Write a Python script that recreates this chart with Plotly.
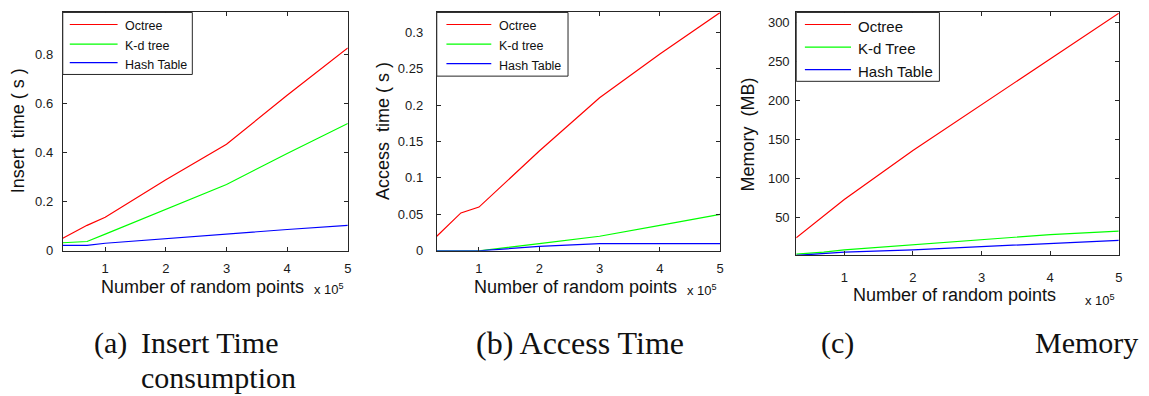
import plotly.graph_objects as go

W, H = 1149, 396

# Number of random points, in units of 10^5
n_points = [0.3, 0.7, 1, 2, 3, 4, 5]

series_names = ["Octree", "K-d tree", "Hash Table"]
series_names_mem = ["Octree", "K-d Tree", "Hash Table"]
series_colors = ["#ff0000", "#00ff00", "#0000ff"]

# (a) insert time, seconds
insert_octree = [0.051, 0.104, 0.137, 0.29, 0.435, 0.635, 0.828]
insert_kd = [0.033, 0.038, 0.068, 0.171, 0.271, 0.397, 0.52]
insert_hash = [0.022, 0.022, 0.031, 0.05, 0.07, 0.087, 0.104]

# (b) access time, seconds
access_octree = [0.02, 0.052, 0.06, 0.137, 0.21, 0.27, 0.327]
access_kd = [0, 0, 0, 0.01, 0.02, 0.035, 0.05]
access_hash = [0, 0, 0, 0.006, 0.01, 0.01, 0.01]

# (c) memory, MB
memory_octree = [24, 52, 73, 136, 195, 254, 312]
memory_kd = [3, 5.5, 8.5, 14.8, 21, 28, 32.5]
memory_hash = [1.3, 3.8, 5.6, 8.5, 12.6, 17, 20.7]

y_ticks_a = [0, 0.2, 0.4, 0.6, 0.8]
y_ticks_b = [0, 0.05, 0.1, 0.15, 0.2, 0.25, 0.3]
y_ticks_c = [50, 100, 150, 200, 250, 300]
x_ticks = [1, 2, 3, 4, 5]

SANS = "Liberation Sans, Arial, sans-serif"
SERIF = "Liberation Serif, Times New Roman, serif"
AXIS_COLOR = "#262626"


def px(x):
    return x / W


def py(y):
    return 1 - y / H


# panel boxes in pixels: left, right, top, bottom
boxes = {
    "a": (63, 349, 12.7, 256),
    "b": (438.3, 722.7, 12.7, 256),
    "c": (799, 1122.7, 12.7, 260.7),
}

fig = go.Figure()

panels = [
    ("a", "x", "y", [insert_octree, insert_kd, insert_hash], series_names),
    ("b", "x2", "y2", [access_octree, access_kd, access_hash], series_names),
    ("c", "x3", "y3", [memory_octree, memory_kd, memory_hash], series_names_mem),
]

for key, xa, ya, series, names in panels:
    for vals, name, color in zip(series, names, series_colors):
        fig.add_trace(go.Scatter(
            x=n_points, y=vals, name=name, mode="lines",
            line=dict(color=color, width=1.2),
            xaxis=xa, yaxis=ya, showlegend=False,
        ))

common_axis = dict(
    showline=True, linecolor=AXIS_COLOR, linewidth=1, mirror="ticks",
    ticks="inside", ticklen=4, tickcolor=AXIS_COLOR, tickwidth=1,
    showgrid=False, zeroline=False,
    tickfont=dict(family=SANS, size=13, color="#1a1a1a"),
)


def xaxis_cfg(key, anchor, standoff):
    l, r, t, b = boxes[key]
    return dict(common_axis, domain=[px(l), px(r)], range=[0.3, 5],
                tickvals=x_ticks, anchor=anchor, ticklabelstandoff=standoff)


def yaxis_cfg(key, anchor, rng, ticks, standoff):
    l, r, t, b = boxes[key]
    return dict(common_axis, domain=[py(b), py(t)], range=rng,
                tickvals=ticks, anchor=anchor, ticklabelstandoff=standoff)


fig.update_layout(
    width=W, height=H,
    margin=dict(l=0, r=0, t=0, b=0),
    paper_bgcolor="white", plot_bgcolor="white",
    xaxis=xaxis_cfg("a", "y", 6),
    yaxis=yaxis_cfg("a", "x", [0, 0.973], y_ticks_a, 6),
    xaxis2=xaxis_cfg("b", "y2", 6),
    yaxis2=yaxis_cfg("b", "x2", [0, 0.327], y_ticks_b, 10),
    xaxis3=xaxis_cfg("c", "y3", 10),
    yaxis3=yaxis_cfg("c", "x3", [1.3, 313], y_ticks_c, 3),
)

annotations = []
shapes = []


def text(x, y, s, size, family=SANS, xanchor="left", yanchor="middle", angle=0):
    annotations.append(dict(
        x=px(x), y=py(y), xref="paper", yref="paper", text=s, showarrow=False,
        xanchor=xanchor, yanchor=yanchor, textangle=angle,
        font=dict(family=family, size=size, color="#111111"),
    ))


# legends: box, line samples, labels
legend_specs = [
    # box l, r, t, b ; line x0, x1 ; label x ; row ys ; font size ; names
    ((63, 193, 12.7, 76), (70, 118), 123, (25, 45, 64), 12.5, series_names),
    ((438.3, 570, 12.7, 77.7), (448, 493), 499, (25, 45, 65), 12.5, series_names),
    ((799, 942.7, 12.7, 83), (807.7, 854), 859, (25, 48, 71), 15, series_names_mem),
]
for (bl, br, bt, bb), (lx0, lx1), tx, rows, fs, names in legend_specs:
    shapes.append(dict(type="rect", xref="paper", yref="paper",
                       x0=px(bl), x1=px(br), y0=py(bb), y1=py(bt),
                       line=dict(color=AXIS_COLOR, width=1), fillcolor="white"))
    for ry, name, color in zip(rows, names, series_colors):
        shapes.append(dict(type="line", xref="paper", yref="paper",
                           x0=px(lx0), x1=px(lx1), y0=py(ry), y1=py(ry),
                           line=dict(color=color, width=1.2)))
        text(tx, ry + 2, name, fs)

# axis titles
text(203, 293, "Number of random points", 18, xanchor="center")
text(578, 293, "Number of random points", 18, xanchor="center")
text(958, 301, "Number of random points", 18, xanchor="center")
text(18, 133, "Insert\u00a0 time ( s )", 18, xanchor="center", angle=-90)
text(385, 134, "Access\u00a0 time ( s )", 18, xanchor="center", angle=-90)
text(751, 137, "Memory\u00a0 (MB)", 18, xanchor="center", angle=-90)

# exponent labels
text(313, 295, "x 10<sup>5</sup>", 13)
text(687, 296, "x 10<sup>5</sup>", 13)
text(1087, 306, "x 10<sup>5</sup>", 13)

# captions
text(92, 350, "(a)", 30, family=SERIF)
text(139, 350, "Insert Time", 30, family=SERIF)
text(139, 385, "consumption", 30, family=SERIF)
text(476, 350, "(b) Access Time", 32, family=SERIF)
text(822, 350, "(c)", 30, family=SERIF)
text(1144, 350, "Memory", 30, family=SERIF, xanchor="right")

fig.update_layout(annotations=annotations, shapes=shapes)

fig.write_html("out.html")
